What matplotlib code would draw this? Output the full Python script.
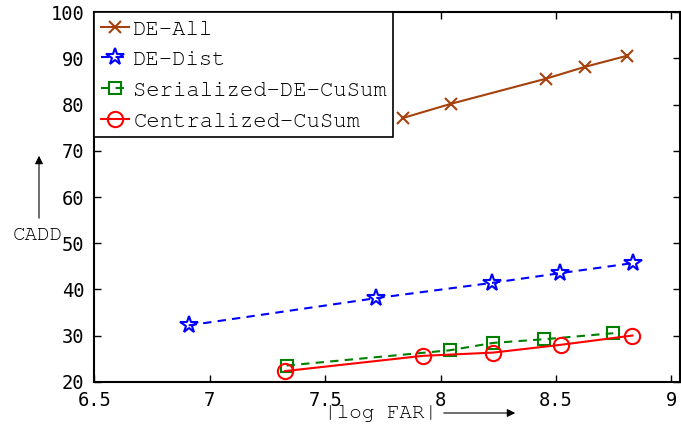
import matplotlib
matplotlib.use("Agg")
import matplotlib.pyplot as plt
from matplotlib import font_manager

# data
de_all_x = [7.836, 8.046, 8.455, 8.626, 8.809]
de_all_y = [77.1, 80.2, 85.6, 88.2, 90.6]

de_dist_x = [6.909, 7.721, 8.222, 8.517, 8.835]
de_dist_y = [32.2, 38.1, 41.4, 43.5, 45.7]

serial_x = [7.333, 8.039, 8.227, 8.449, 8.748]
serial_y = [23.5, 26.8, 28.4, 29.2, 30.5]

central_x = [7.326, 7.923, 8.227, 8.522, 8.831]
central_y = [22.3, 25.6, 26.3, 28.0, 30.0]

xticks = [6.5, 7, 7.5, 8, 8.5, 9]
xtick_labels = ['6.5', '7', '7.5', '8', '8.5', '9']
yticks = [20, 30, 40, 50, 60, 70, 80, 90, 100]

# Courier-like font if one is around, else a plain mono
installed = {f.name for f in font_manager.fontManager.ttflist}
MONO = [f for f in ['Nimbus Mono PS', 'FreeMono', 'Courier New', 'Courier',
                    'Liberation Mono', 'DejaVu Sans Mono'] if f in installed]
TICKFONT = 'DejaVu Sans Mono'

W, H = 681, 429
fig = plt.figure(figsize=(W / 100, H / 100), dpi=100)
ax = fig.add_axes([94.3 / W, (H - 381.7) / H, (680 - 94.3) / W, (381.7 - 12.3) / H])

ax.plot(de_all_x, de_all_y, '-', color='#a5410c', lw=1.5, marker='x',
        ms=8.5, mew=1.5, label='DE-All')
ax.plot(de_dist_x, de_dist_y, '--', color='#0000ff', lw=1.5, dashes=(4, 3),
        marker='*', ms=13, mfc='none', mew=1.5, label='DE-Dist')
ax.plot(serial_x, serial_y, '--', color='#008000', lw=1.5, dashes=(4, 3),
        marker='s', ms=9, mfc='none', mew=1.5, label='Serialized-DE-CuSum')
ax.plot(central_x, central_y, '-', color='#ff0000', lw=1.5,
        marker='o', ms=11, mfc='none', mew=1.5, label='Centralized-CuSum')

ax.set_xlim(6.5, 9.037)
ax.set_ylim(20, 100)
ax.set_xticks(xticks)
ax.set_xticklabels(xtick_labels)
ax.set_yticks(yticks)
ax.tick_params(direction='in', length=5, width=1, top=True, right=True,
               labelsize=13.5, pad=7)
for lab in ax.get_xticklabels() + ax.get_yticklabels():
    lab.set_family(TICKFONT)
for sp in ax.spines.values():
    sp.set_linewidth(1.5)

leg = ax.legend(loc='upper left', prop={'family': MONO, 'size': 16},
                handlelength=1.25, handletextpad=0.2, labelspacing=0.5,
                borderpad=0.3, borderaxespad=0.0, fancybox=False,
                framealpha=1, edgecolor='black')
leg.get_frame().set_linewidth(1.2)

# y label with arrow
fig.text(38 / W, (H - 236) / H, 'CADD', family=MONO, fontsize=15,
         ha='center', va='center')
fig.add_artist(matplotlib.patches.FancyArrowPatch(
    (39 / W, (H - 221) / H), (39 / W, (H - 153) / H),
    transform=fig.transFigure, arrowstyle='-|>', mutation_scale=12,
    color='black', lw=0.8))

# x label with arrow
fig.text(381 / W, (H - 413) / H, '|log FAR|', family=MONO, fontsize=15,
         ha='center', va='center')
fig.add_artist(matplotlib.patches.FancyArrowPatch(
    (441 / W, (H - 413) / H), (518 / W, (H - 413) / H),
    transform=fig.transFigure, arrowstyle='-|>', mutation_scale=12,
    color='black', lw=0.8))

fig.savefig('out.png', dpi=100)
